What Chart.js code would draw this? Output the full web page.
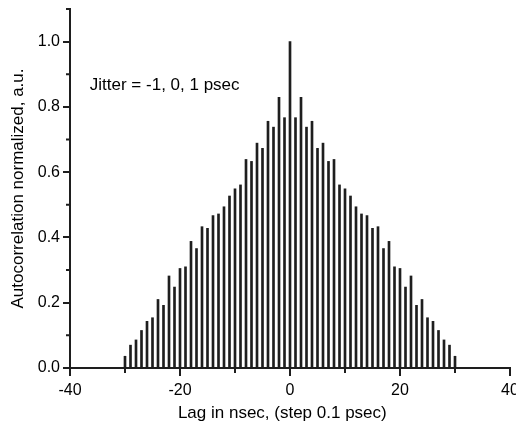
<!DOCTYPE html>
<html>
<head>
<meta charset="utf-8">
<script src="https://cdn.jsdelivr.net/npm/chart.js@4/dist/chart.umd.min.js"></script>
<style>
  html, body { margin: 0; padding: 0; background: #fff; overflow: hidden; }
</style>
</head>
<body>
<canvas id="myChart" width="516" height="424"></canvas>
<script>
// lag values (nsec) and normalized autocorrelation
const lags = [-30, -29, -28, -27, -26, -25, -24, -23, -22, -21, -20, -19, -18, -17, -16, -15,
  -14, -13, -12, -11, -10, -9, -8, -7, -6, -5, -4, -3, -2, -1, 0,
  1, 2, 3, 4, 5, 6, 7, 8, 9, 10, 11, 12, 13, 14, 15,
  16, 17, 18, 19, 20, 21, 22, 23, 24, 25, 26, 27, 28, 29, 30];
const autocorr = [0.036, 0.070, 0.086, 0.115, 0.143, 0.154, 0.210, 0.192, 0.282, 0.248, 0.305, 0.310, 0.388, 0.366, 0.433, 0.428,
  0.467, 0.472, 0.494, 0.527, 0.549, 0.561, 0.639, 0.633, 0.689, 0.673, 0.756, 0.738, 0.829, 0.767, 1.0,
  0.767, 0.829, 0.738, 0.756, 0.673, 0.689, 0.633, 0.639, 0.561, 0.549, 0.527, 0.494, 0.472, 0.467, 0.428,
  0.433, 0.366, 0.388, 0.310, 0.305, 0.248, 0.282, 0.192, 0.210, 0.154, 0.143, 0.115, 0.086, 0.070, 0.036];

const xTicks = [-40, -20, 0, 20, 40];
const xMinor = [-30, -10, 10, 30];
const yTicks = [0, 0.2, 0.4, 0.6, 0.8, 1.0];
const yMinor = [0.1, 0.3, 0.5, 0.7, 0.9, 1.1];

const note = 'Jitter = -1, 0, 1 psec';
const noteAt = [-36.4, 0.866]; // in data units
const xTitle = 'Lag in nsec, (step 0.1 psec)';
const xTitleAt = -1.4; // centre of the x title, data units

const ink = '#1e1e1e';
const font = { family: 'Liberation Sans, Arial, sans-serif', size: 16 };
const bigFont = { family: 'Liberation Sans, Arial, sans-serif', size: 17 };

// minor ticks, x title and the text note
const extras = {
  id: 'extras',
  afterDraw(chart) {
    const ctx = chart.ctx, x = chart.scales.x, y = chart.scales.y;
    const y0 = y.getPixelForValue(0), x0 = x.getPixelForValue(-40);
    ctx.save();
    ctx.strokeStyle = ink;
    ctx.lineWidth = 2;
    ctx.beginPath();
    xMinor.forEach(v => {
      const p = x.getPixelForValue(v);
      ctx.moveTo(p, y0); ctx.lineTo(p, y0 + 5);
    });
    yMinor.forEach(v => {
      const p = y.getPixelForValue(v);
      ctx.moveTo(x0, p); ctx.lineTo(x0 - 4, p);
    });
    ctx.stroke();
    ctx.fillStyle = '#000';
    ctx.font = bigFont.size + 'px ' + bigFont.family;
    ctx.textBaseline = 'middle';
    ctx.textAlign = 'left';
    ctx.fillText(note, x.getPixelForValue(noteAt[0]), y.getPixelForValue(noteAt[1]));
    ctx.textAlign = 'center';
    ctx.fillText(xTitle, x.getPixelForValue(xTitleAt), y0 + 45);
    ctx.restore();
  }
};

const ctx = document.getElementById('myChart');
new Chart(ctx, {
  type: 'bar',
  data: {
    datasets: [{
      data: lags.map((x, i) => ({ x: x, y: autocorr[i] })),
      backgroundColor: ink,
      borderWidth: 0,
      barThickness: 2
    }]
  },
  options: {
    responsive: false,
    animation: false,
    events: [],
    layout: { autoPadding: false, padding: { top: 9, right: 6, left: 0, bottom: 0 } },
    plugins: { legend: { display: false }, tooltip: { enabled: false } },
    scales: {
      x: {
        type: 'linear',
        min: -40,
        max: 40,
        offset: false,
        afterBuildTicks: s => { s.ticks = xTicks.map(v => ({ value: v })); },
        afterFit: s => { s.height = 56; s.paddingLeft = 0; s.paddingRight = 0; },
        ticks: { font: font, color: '#000', padding: 5, maxRotation: 0, autoSkip: false },
        grid: { drawOnChartArea: false, offset: false, tickLength: 8, color: ink, lineWidth: 2 },
        border: { color: ink, width: 2 }
      },
      y: {
        min: 0,
        max: 1.1,
        afterBuildTicks: s => { s.ticks = yTicks.map(v => ({ value: v })); },
        afterFit: s => { s.width = 70; s.paddingTop = 0; s.paddingBottom = 0; },
        ticks: { font: font, color: '#000', padding: 3, callback: v => v.toFixed(1) },
        grid: { drawOnChartArea: false, tickLength: 7, color: ink, lineWidth: 2 },
        border: { color: ink, width: 2 },
        title: { display: true, text: 'Autocorrelation normalized, a.u.', font: bigFont, color: '#000', padding: { top: 8, bottom: 0 } }
      }
    }
  },
  plugins: [extras]
});
</script>
</body>
</html>
